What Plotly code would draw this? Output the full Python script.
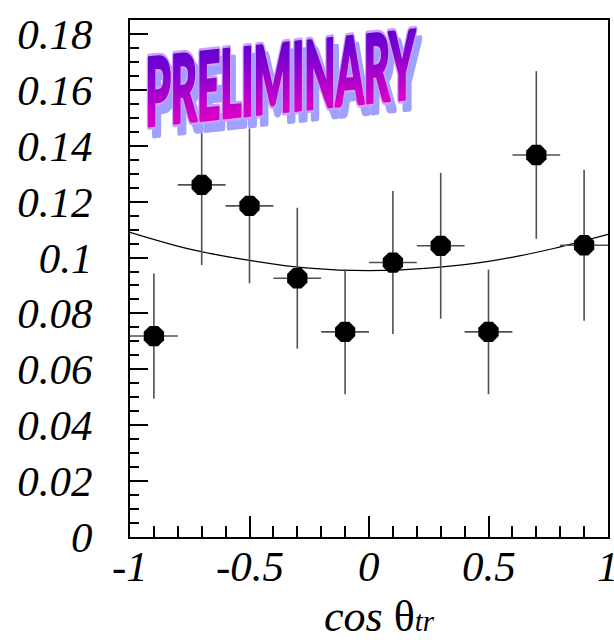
import plotly.graph_objects as go

# ---- data ----
cos_theta = [-0.9, -0.7, -0.5, -0.3, -0.1, 0.1, 0.3, 0.5, 0.7, 0.9]
values = [0.0719, 0.1260, 0.1185, 0.0926, 0.0734, 0.0982, 0.1042, 0.0734, 0.1367, 0.1044]
y_errors = [0.0224, 0.0287, 0.0277, 0.0252, 0.0223, 0.0256, 0.0261, 0.0223, 0.0300, 0.0270]
x_errors = [0.1] * 10

fit_x = [-1.0, -0.75, -0.5, -0.25, 0.0, 0.25, 0.5, 0.75, 1.0]
fit_y = [0.1090, 0.1030, 0.0990, 0.0962, 0.0953, 0.0962, 0.0986, 0.1028, 0.1083]

y_tick_vals = [0, 0.02, 0.04, 0.06, 0.08, 0.1, 0.12, 0.14, 0.16, 0.18]
y_tick_text = ["0", "0.02", "0.04", "0.06", "0.08", "0.1", "0.12", "0.14", "0.16", "0.18"]
x_tick_vals = [-1, -0.5, 0, 0.5, 1]
x_tick_text = ["-1", "-0.5", "0", "0.5", "1"]

stamp_text = "PRELIMINARY"
x_title = "<i>cos</i> θ<span style='font-size:29px'><i>tr</i></span>"

fig = go.Figure()

fig.add_trace(go.Scatter(
    x=fit_x, y=fit_y, mode="lines",
    line=dict(color="black", width=1.2, shape="spline"),
    hoverinfo="skip", showlegend=False,
))

fig.add_trace(go.Scatter(
    x=cos_theta, y=values, mode="markers",
    marker=dict(symbol="octagon", size=22, color="black", line=dict(width=0)),
    error_y=dict(type="data", array=y_errors, visible=True, color="#505050", thickness=1.6, width=0),
    error_x=dict(type="data", array=x_errors, visible=True, color="#505050", thickness=1.6, width=0),
    showlegend=False,
))

tick_font = dict(family="Liberation Serif", size=43, color="black", style="italic")
stamp_font = dict(family="Lato", size=94, weight=900)

annotations = []
# x tick labels, placed on the x scale just below the frame
for v, t in zip(x_tick_vals, x_tick_text):
    annotations.append(dict(text=t, xref="x", yref="paper", x=v, y=-0.0561,
                            xanchor="center", yanchor="middle", showarrow=False,
                            font=tick_font))
stamp_index = len(annotations)
annotations += [
    dict(text=stamp_text, xref="paper", yref="paper", x=0.3146, y=0.8917,
         xanchor="center", yanchor="middle", showarrow=False, xshift=5, yshift=-9,
         font=dict(stamp_font, color="rgb(160,160,255)")),
    dict(text=stamp_text, xref="paper", yref="paper", x=0.3146, y=0.8917,
         xanchor="center", yanchor="middle", showarrow=False,
         font=dict(stamp_font, color="rgb(205,160,250)")),
    dict(text=stamp_text, xref="paper", yref="paper", x=0.3146, y=0.8917,
         xanchor="center", yanchor="middle", showarrow=False,
         font=dict(stamp_font, color="rgb(170,0,200)")),
    dict(text=x_title, xref="paper", yref="paper", x=0.521, y=-0.1547,
         xanchor="center", yanchor="middle", showarrow=False,
         font=dict(family="Liberation Serif", size=44, color="black")),
]

fig.update_layout(
    width=614, height=640,
    margin=dict(l=130, r=4, t=20, b=103),
    paper_bgcolor="white", plot_bgcolor="white",
    showlegend=False,
    xaxis=dict(
        range=[-1, 1], showgrid=False, zeroline=False,
        showline=True, linecolor="black", linewidth=2, mirror=True,
        ticks="inside", ticklen=21, tickwidth=1.5, tickcolor="black",
        tickvals=x_tick_vals, showticklabels=False,
        minor=dict(ticks="inside", dtick=0.1, ticklen=11, tickwidth=1.5, tickcolor="black", showgrid=False),
    ),
    yaxis=dict(
        range=[0, 0.185], showgrid=False, zeroline=False,
        showline=True, linecolor="black", linewidth=2, mirror=True,
        ticks="inside", ticklen=18, tickwidth=1.5, tickcolor="black",
        tickvals=y_tick_vals, ticktext=y_tick_text,
        tickfont=tick_font, ticklabelstandoff=27,
        minor=dict(ticks="inside", dtick=0.005, ticklen=9, tickwidth=1.5, tickcolor="black", showgrid=False),
    ),
    annotations=annotations,
)

post_js = """
var gd = document.querySelector('.js-plotly-plot');
var ns = 'http://www.w3.org/2000/svg';
var base = %d;
function ann(i) { return gd.querySelector('g.annotation[data-index="' + i + '"] text.annotation-text'); }
var sh = ann(base), ol = ann(base + 1), mn = ann(base + 2);
if (mn) {
  var svg = mn.ownerSVGElement;
  var defs = document.createElementNS(ns, 'defs');
  var lg = document.createElementNS(ns, 'linearGradient');
  lg.setAttribute('id', 'prelimgrad');
  lg.setAttribute('x1', '0'); lg.setAttribute('y1', '0');
  lg.setAttribute('x2', '0'); lg.setAttribute('y2', '1');
  [['0.25', 'rgb(105,0,210)'], ['0.8', 'rgb(215,0,200)']].forEach(function(s){
    var st = document.createElementNS(ns, 'stop');
    st.setAttribute('offset', s[0]); st.setAttribute('stop-color', s[1]);
    lg.appendChild(st);
  });
  defs.appendChild(lg);
  svg.insertBefore(defs, svg.firstChild);
  [sh, ol, mn].forEach(function(t){
    if (!t) return;
    t.style.transformBox = 'fill-box';
    t.style.transformOrigin = '50%% 50%%';
    t.style.transform = 'skewY(-6deg) scaleX(0.43)';
    t.style.strokeLinejoin = 'round';
  });
  mn.style.fill = 'url(#prelimgrad)';
  mn.style.stroke = 'url(#prelimgrad)';
  mn.style.strokeWidth = '3px';
  if (ol) { ol.style.stroke = 'rgb(205,160,250)'; ol.style.strokeWidth = '8px'; }
  if (sh) { sh.style.stroke = 'rgb(160,160,255)'; sh.style.strokeWidth = '7px'; }
}
""" % stamp_index

fig.write_html("out.html", post_script=post_js)
